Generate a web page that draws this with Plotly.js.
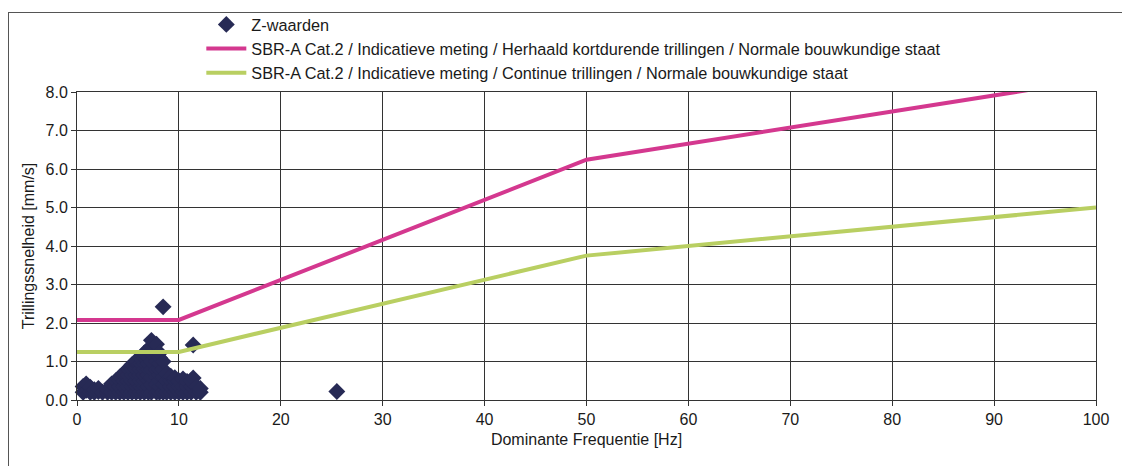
<!DOCTYPE html>
<html><head><meta charset="utf-8">
<script src="https://cdn.plot.ly/plotly-3.0.1.min.js"></script>
<style>
body{margin:0;padding:0;background:#fff;overflow:hidden;}
#frame{position:absolute;left:8px;top:12px;width:1300px;height:700px;border-left:1.5px solid #555;border-top:1.5px solid #555;pointer-events:none;}
#chart{position:absolute;left:0;top:0;width:1122px;height:466px;}
</style></head>
<body>
<div id="chart"></div>
<div id="frame"></div>
<script>
// Scatter "Z-waarden" (frequency Hz, velocity mm/s)
const zFreq = [
 0.6,0.6, 0.9,0.9, 1.3,1.3, 1.7,1.7, 2.1,2.1, 2.5,
 3.0,3.0, 3.4,3.4,3.4, 3.8,3.8,3.8, 4.2,4.2,4.2,4.2,
 4.6,4.6,4.6,4.6,4.6, 5.0,5.0,5.0,5.0,5.0,
 5.4,5.4,5.4,5.4,5.4,5.4, 5.8,5.8,5.8,5.8,5.8,5.8,5.8,
 6.2,6.2,6.2,6.2,6.2,6.2,6.2, 6.6,6.6,6.6,6.6,6.6,6.6,6.6,6.6,
 7.0,7.0,7.0,7.0,7.0,7.0,7.0,7.0,7.0, 7.3,7.3,7.3,7.3,7.3,7.3,7.3,7.3,
 7.8,7.8,7.8,7.8,7.8,7.8,7.8, 8.1,8.1,8.1,8.1,8.1,8.1,8.1,8.1,
 8.45,8.45,8.45,8.45,8.45,8.45, 8.8,8.8,8.8,8.8, 9.2,9.2,9.2,9.2,
 9.6,9.6,9.6,9.6, 10.0,10.0,10.0, 10.4,10.4,10.4, 10.8,10.8,10.8,
 11.2,11.2,11.2, 11.4,11.4, 11.7,11.7, 12.1,12.1, 25.5
];
const zVel = [
 0.2,0.35, 0.25,0.42, 0.2,0.33, 0.2,0.27, 0.22,0.3, 0.2,
 0.2,0.28, 0.2,0.35,0.42, 0.2,0.35,0.5, 0.2,0.35,0.5,0.6,
 0.2,0.35,0.5,0.65,0.7, 0.2,0.35,0.5,0.65,0.8,
 0.2,0.35,0.5,0.65,0.8,0.92, 0.2,0.35,0.5,0.65,0.8,0.95,1.02,
 0.2,0.35,0.5,0.65,0.8,0.95,1.1, 0.2,0.35,0.5,0.65,0.8,0.95,1.1,1.22,
 0.2,0.35,0.5,0.65,0.8,0.95,1.1,1.25,1.32, 0.2,0.4,0.6,0.8,1.0,1.2,1.4,1.55,
 0.2,0.4,0.6,0.8,1.0,1.2,1.45, 0.2,0.35,0.5,0.65,0.8,0.95,1.1,1.22,
 0.2,0.4,0.6,0.8,1.0,2.42, 0.2,0.35,0.5,0.68, 0.2,0.35,0.5,0.62,
 0.2,0.35,0.5,0.58, 0.2,0.35,0.5, 0.2,0.35,0.55, 0.2,0.35,0.48,
 0.2,0.35,0.5, 0.57,1.43, 0.2,0.35, 0.2,0.3, 0.22
];
// Limit lines
const limFreq = [0, 10, 50, 100];
const limHerhaald = [2.08, 2.08, 6.24, 8.33];
const limContinue = [1.25, 1.25, 3.75, 5.0];
const names = [
 'Z-waarden',
 'SBR-A Cat.2 / Indicatieve meting / Herhaald kortdurende trillingen / Normale bouwkundige staat',
 'SBR-A Cat.2 / Indicatieve meting / Continue trillingen / Normale bouwkundige staat'
];

const font = 'Liberation Sans, Arial, sans-serif';
const txt = '#1a1a1a';
const traces = [
 {x: zFreq, y: zVel, type:'scatter', mode:'markers', name:names[0],
  marker:{symbol:'diamond', size:13, color:'#272a55'}, cliponaxis:false},
 {x: limFreq, y: limHerhaald, type:'scatter', mode:'lines', name:names[1],
  line:{color:'#d4388f', width:4}},
 {x: limFreq, y: limContinue, type:'scatter', mode:'lines', name:names[2],
  line:{color:'#b9cf62', width:4}}
];
const layout = {
 width:1122, height:466,
 margin:{l:77, r:26, t:92, b:66, autoexpand:false},
 paper_bgcolor:'rgba(0,0,0,0)', plot_bgcolor:'#fff',
 font:{family:font, size:16, color:txt},
 showlegend:true,
 legend:{x:0.122, xanchor:'left', y:1.275, yanchor:'top', bgcolor:'rgba(0,0,0,0)',
   font:{family:font, size:16.3, color:txt}, tracegroupgap:0, itemwidth:40},
 xaxis:{range:[0,100], dtick:10, tick0:0, showgrid:true, gridcolor:'#333', gridwidth:1,
   showline:true, linecolor:'#333', linewidth:1, mirror:true, zeroline:false,
   ticks:'outside', ticklen:5, tickcolor:'#333',
   tickfont:{family:font, size:16, color:txt},
   title:{text:'Dominante Frequentie [Hz]', font:{family:font, size:16, color:txt}, standoff:6}},
 yaxis:{range:[0,8], dtick:1, tick0:0, tickformat:'.1f', showgrid:true, gridcolor:'#333', gridwidth:1,
   showline:true, linecolor:'#333', linewidth:1, mirror:true, zeroline:false,
   ticks:'outside', ticklen:5, tickcolor:'#333',
   tickfont:{family:font, size:16, color:txt},
   title:{text:'Trillingssnelheid [mm/s]', font:{family:font, size:16, color:txt}, standoff:6}}
};
Plotly.newPlot('chart', traces, layout, {displayModeBar:false, staticPlot:true});
</script>
</body></html>
